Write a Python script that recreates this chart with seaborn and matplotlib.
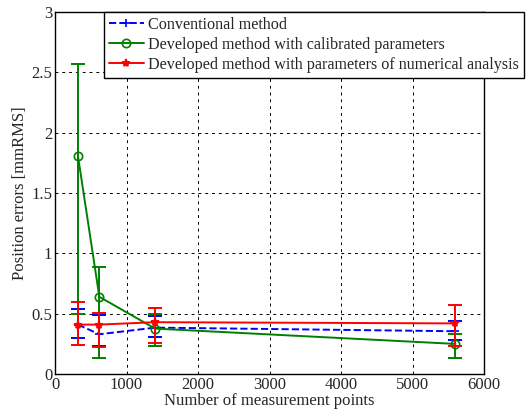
import numpy as np
import pandas as pd
import matplotlib
matplotlib.use('Agg')
import matplotlib.pyplot as plt
import seaborn as sns

# Datos
points = [320, 620, 1400, 5600]

conv_mean = [0.41, 0.33, 0.385, 0.355]
conv_low = [0.30, 0.23, 0.31, 0.28]
conv_high = [0.54, 0.49, 0.48, 0.44]

calib_mean = [1.81, 0.64, 0.377, 0.25]
calib_low = [0.50, 0.135, 0.23, 0.13]
calib_high = [2.57, 0.89, 0.50, 0.33]

num_mean = [0.41, 0.41, 0.43, 0.42]
num_low = [0.24, 0.225, 0.26, 0.23]
num_high = [0.60, 0.505, 0.55, 0.57]

labels = ['Conventional method',
          'Developed method with calibrated parameters',
          'Developed method with parameters of numerical analysis']

sns.set_style('white')
plt.rcParams['font.family'] = ['Liberation Serif', 'DejaVu Serif']

fig = plt.figure(figsize=(5.31, 4.12), dpi=100)
ax = fig.add_axes([0.1036, 0.092, 0.808, 0.879])

series = [
    (conv_mean, conv_low, conv_high, 'blue', '--', '+', 'blue'),
    (calib_mean, calib_low, calib_high, 'green', '-', 'o', 'none'),
    (num_mean, num_low, num_high, 'red', '-', '*', 'red'),
]

for (mean, low, high, color, ls, mk, fc), lab in zip(series, labels):
    df = pd.DataFrame({'x': points, 'y': mean})
    mean_a = np.array(mean)
    yerr = [mean_a - np.array(low), np.array(high) - mean_a]
    ax.errorbar(points, mean, yerr=yerr, fmt='none', ecolor=color,
                elinewidth=1.4, capsize=5, capthick=1.4)
    sns.lineplot(data=df, x='x', y='y', ax=ax, color=color, linestyle=ls,
                 marker=mk, markersize=6, markerfacecolor=fc,
                 markeredgecolor=color, markeredgewidth=1.2,
                 linewidth=1.4, label=lab)

ax.set_xlim(0, 6000)
ax.set_ylim(0, 3)
ax.set_xticks(range(0, 6001, 1000))
ax.set_yticks([0, 0.5, 1, 1.5, 2, 2.5, 3])
ax.set_yticklabels(['0', '0.5', '1', '1.5', '2', '2.5', '3'])
ax.grid(True, color='black', linestyle=(0, (3, 4)), linewidth=0.7)
for s in ax.spines.values():
    s.set_color('black')
    s.set_linewidth(1.0)
ax.tick_params(axis='both', labelsize=12, direction='in', length=3, color='black', pad=2)
ax.set_xlabel('Number of measurement points', fontsize=12, labelpad=0)
ax.set_ylabel('Position errors [mmRMS]', fontsize=12, labelpad=2)

leg = ax.legend(loc='upper left', bbox_to_anchor=(0.114, 1.0), borderaxespad=0,
                fontsize=11.6, frameon=True, fancybox=False, framealpha=1,
                edgecolor='black', handlelength=2.2, labelspacing=0.25,
                borderpad=0.3, handletextpad=0.25)
leg.get_frame().set_linewidth(1.0)

fig.savefig('out.png', dpi=100)
